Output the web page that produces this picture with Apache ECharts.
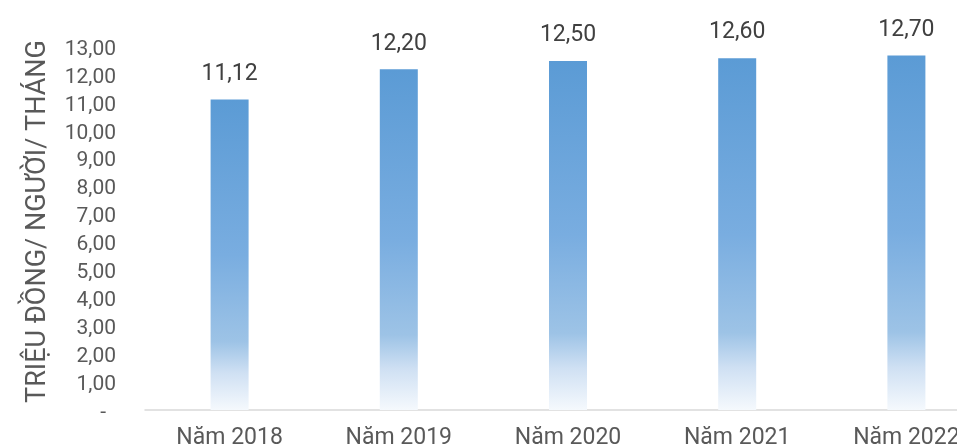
<!DOCTYPE html>
<html>
<head>
<meta charset="utf-8">
<style>
  html, body { margin: 0; padding: 0; background: #fff; overflow: hidden; }
  #chart { width: 991px; height: 448px; }
</style>
<script src="https://cdn.jsdelivr.net/npm/echarts@6/dist/echarts.min.js"></script>
</head>
<body>
<div id="chart"></div>
<script>
// Thu nhập bình quân (triệu đồng/người/tháng) theo năm
const categories = ['Năm 2018', 'Năm 2019', 'Năm 2020', 'Năm 2021', 'Năm 2022'];
const incomeValues = [11.12, 12.20, 12.50, 12.60, 12.70];
const axisTitle = 'TRIỆU ĐỒNG/ NGƯỜI/ THÁNG';

const textColor = '#595959';
const font = 'Roboto';

// Excel-style number: comma decimal, zero shown as a dash
function fmt(v) {
  return v.toFixed(2).replace('.', ',');
}

const chart = echarts.init(document.getElementById('chart'), null, { renderer: 'canvas' });

chart.setOption({
  animation: false,
  backgroundColor: '#ffffff',
  grid: {
    left: 145,
    right: 0,
    top: 47,
    bottom: 38,
    containLabel: false,
    outerBoundsMode: 'none'
  },
  xAxis: {
    type: 'category',
    data: categories,
    axisLine: { show: true, lineStyle: { color: '#d9d9d9', width: 1.5 } },
    axisTick: { show: false },
    axisLabel: {
      color: textColor,
      fontFamily: font,
      fontSize: 23,
      margin: 17
    }
  },
  yAxis: {
    type: 'value',
    min: 0,
    max: 13,
    interval: 1,
    name: axisTitle,
    nameLocation: 'middle',
    nameGap: 93,
    nameRotate: 90,
    nameTextStyle: {
      color: textColor,
      fontFamily: font,
      fontSize: 27,
      padding: [0, 0, 0, 14]
    },
    splitLine: { show: false },
    axisLine: { show: false },
    axisTick: { show: false },
    axisLabel: {
      color: textColor,
      fontFamily: font,
      fontSize: 21,
      margin: 29,
      padding: [5, 0, 0, 0],
      formatter: function (v) {
        return v === 0 ? '{z|-}' : fmt(v);
      },
      rich: {
        z: { color: textColor, fontFamily: font, fontSize: 21, padding: [0, 10, 0, 0] }
      }
    }
  },
  series: [{
    type: 'bar',
    data: incomeValues,
    barWidth: 38,
    itemStyle: {
      color: new echarts.graphic.LinearGradient(0, 0, 0, 1, [
        { offset: 0, color: '#5b9bd5' },
        { offset: 0.5, color: '#79ade0' },
        { offset: 0.78, color: '#9dc3e6' },
        { offset: 0.88, color: '#cfe0f3' },
        { offset: 1, color: '#f5f9fd' }
      ])
    },
    label: {
      show: true,
      position: 'top',
      distance: 14,
      color: '#404040',
      fontFamily: font,
      fontSize: 23,
      formatter: function (p) { return fmt(p.value); }
    }
  }]
});
</script>
</body>
</html>
